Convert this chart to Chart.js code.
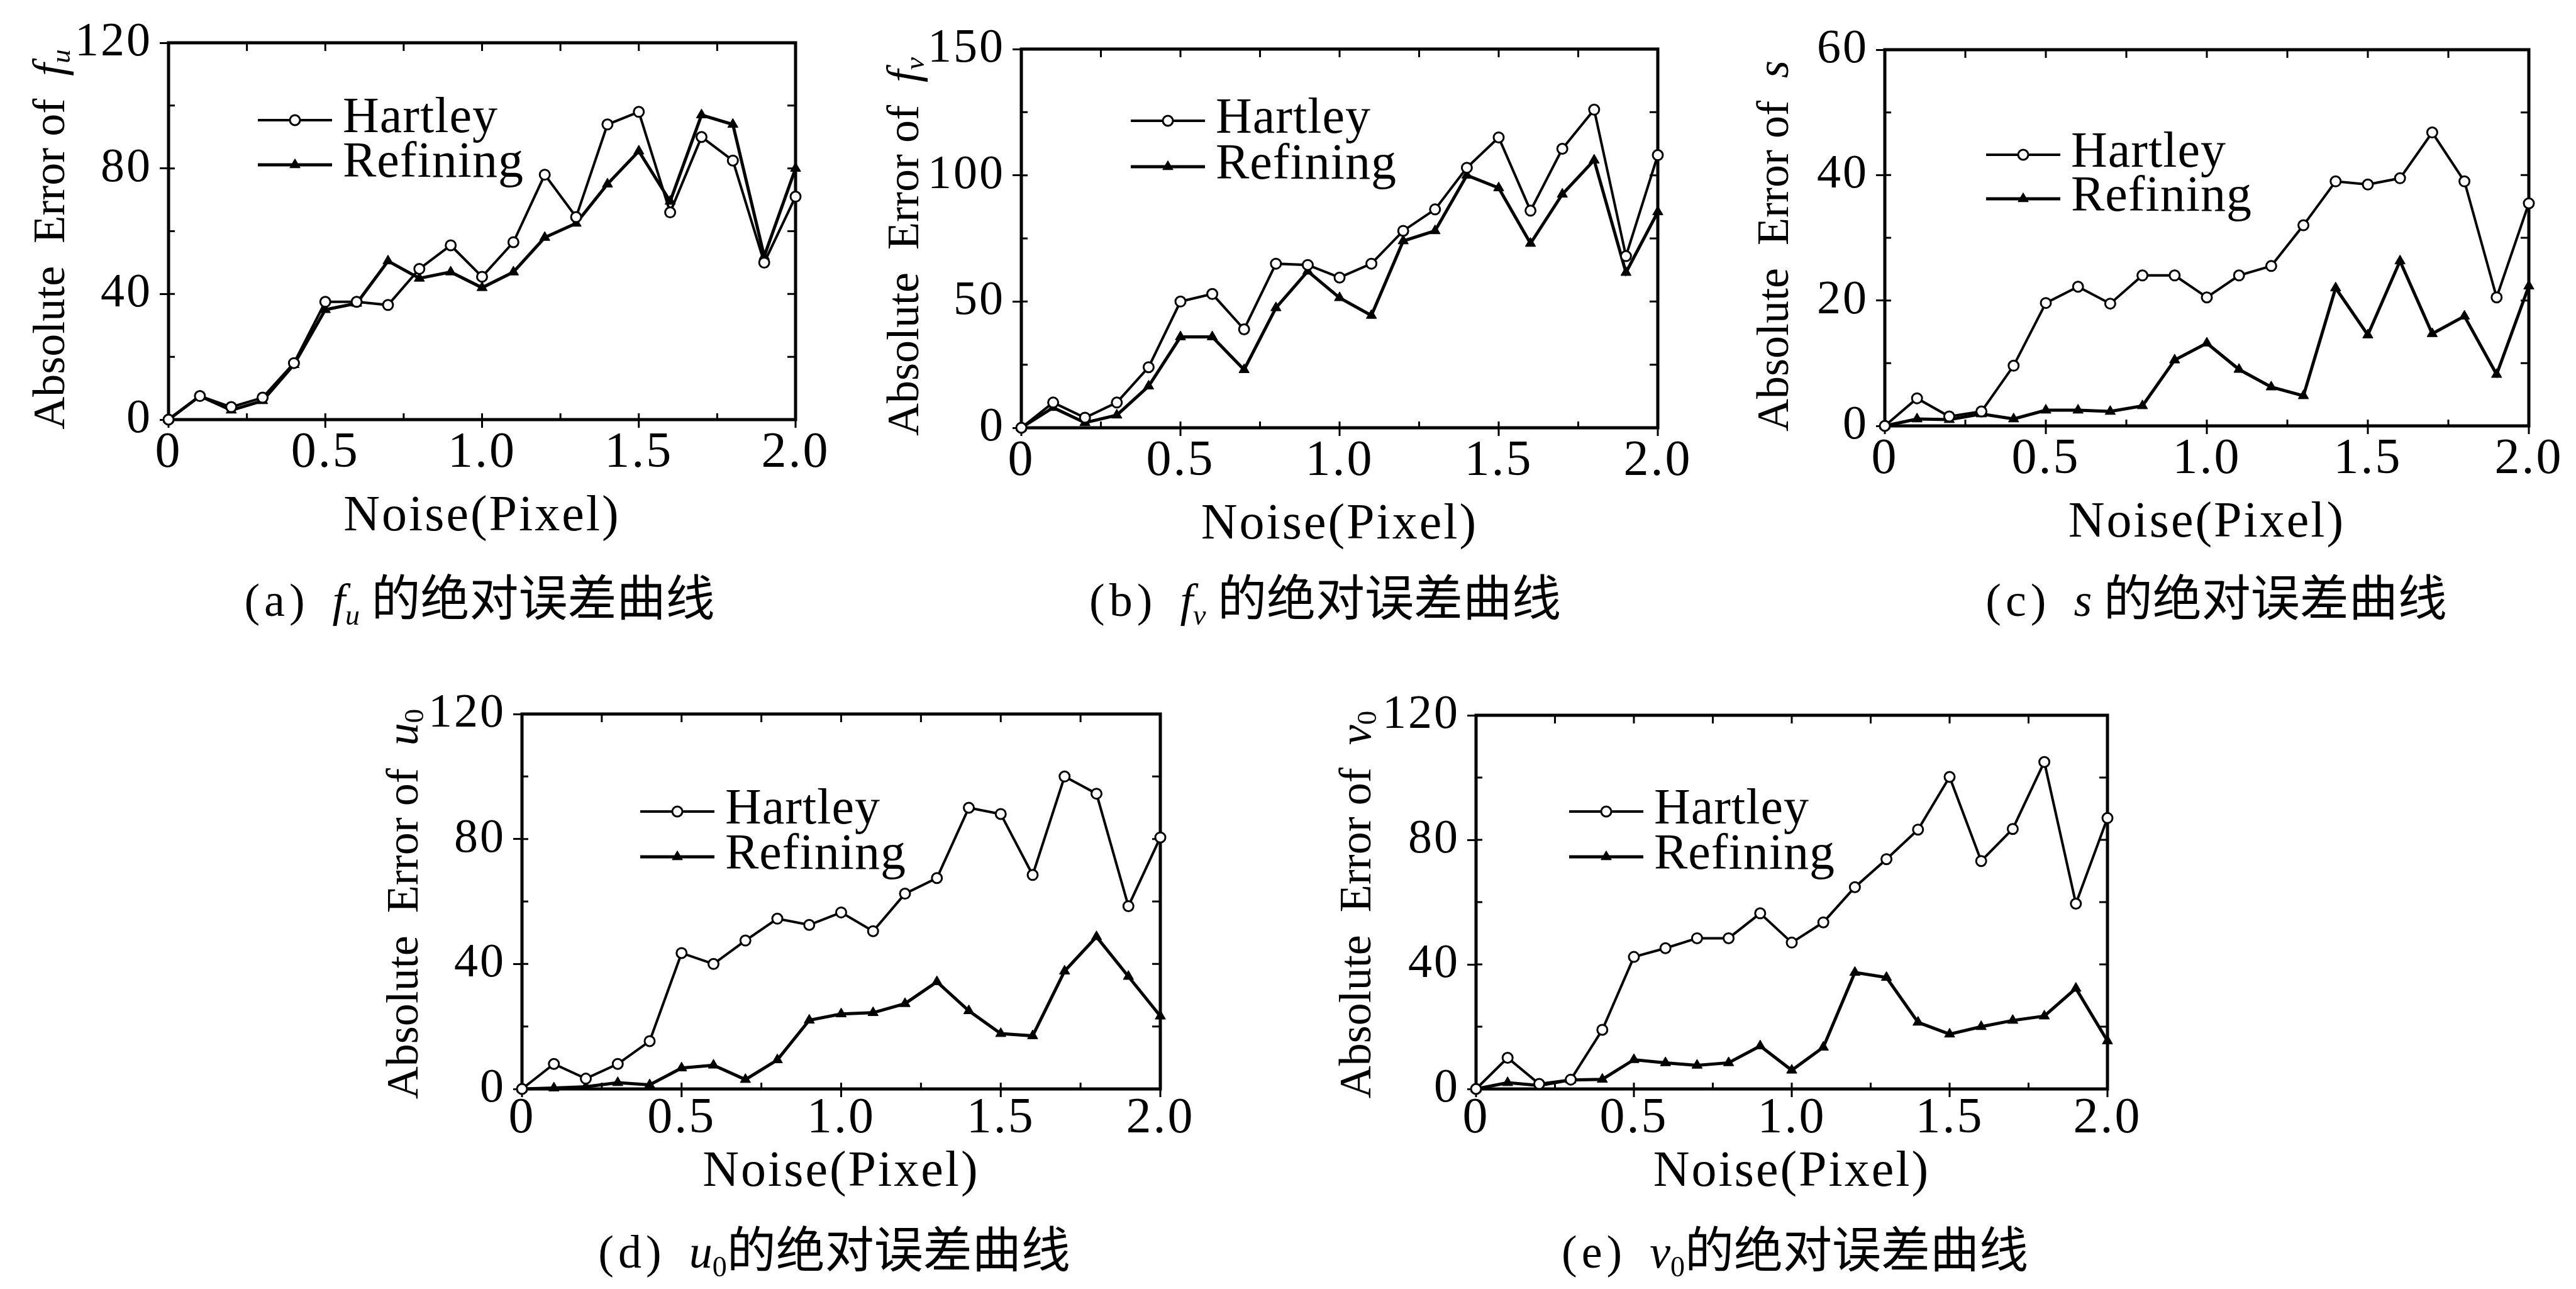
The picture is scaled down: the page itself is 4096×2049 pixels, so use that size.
<!DOCTYPE html>
<html>
<head>
<meta charset="utf-8">
<script src="https://cdn.jsdelivr.net/npm/chart.js@4.4.1/dist/chart.umd.min.js"></script>
<style>
  html, body { margin: 0; padding: 0; background: #fff; }
  body { width: 4096px; height: 2049px; position: relative; overflow: hidden; }
  canvas { position: absolute; }
</style>
</head>
<body>
<script>
// noise level (pixel) on every x axis
const noise = [0, 0.1, 0.2, 0.3, 0.4, 0.5, 0.6, 0.7, 0.8, 0.9, 1.0,
               1.1, 1.2, 1.3, 1.4, 1.5, 1.6, 1.7, 1.8, 1.9, 2.0];
const xTickLabels = ['0', '0.5', '1.0', '1.5', '2.0'];

// (a) f_u
const fuHartley  = [0, 7.5, 4, 7, 18, 37.5, 37.5, 36.5, 48, 55.5, 45.5, 56.5, 78, 64.5, 94, 98, 66, 90, 82.5, 50, 71];
const fuRefining = [0, 7.5, 3, 6, 17.5, 35, 37, 50.5, 45, 47, 42, 47, 58, 62.5, 75, 85.5, 69.5, 97, 94, 52, 80];
const fuTicks = [0, 40, 80, 120];

// (b) f_v
const fvHartley  = [0, 10, 4, 10, 24, 50, 53, 39, 65, 64.5, 59.5, 65, 78, 86.5, 103, 115, 86, 110.5, 126, 68, 108];
const fvRefining = [0, 8, 2, 5, 16.5, 36, 36, 23, 47.5, 62, 51.5, 44.5, 74, 78, 100, 95, 73, 92.5, 106, 61.5, 85.5];
const fvTicks = [0, 50, 100, 150];

// (c) s
const sHartley  = [0, 4.4, 1.5, 2.3, 9.6, 19.6, 22.2, 19.5, 24, 24, 20.5, 24, 25.5, 32, 39, 38.5, 39.5, 46.8, 39, 20.5, 35.5];
const sRefining = [0, 1.1, 1, 1.9, 1.1, 2.5, 2.5, 2.3, 3.2, 10.5, 13.2, 9, 6.2, 4.8, 22, 14.5, 26.3, 14.7, 17.5, 8.2, 22.3];
const sTicks = [0, 20, 40, 60];

// (d) u_0
const u0Hartley  = [0, 8, 3.3, 8, 15.3, 43.5, 40, 47.5, 54.5, 52.5, 56.5, 50.5, 62.5, 67.5, 90, 88, 68.5, 100, 94.5, 58.5, 80.5];
const u0Refining = [0, 0.3, 0.7, 2, 1.3, 6.7, 7.6, 3, 9.3, 22, 24, 24.4, 27.3, 34.3, 25, 17.7, 17, 37.7, 48.7, 36, 23.3];
const u0Ticks = [0, 40, 80, 120];

// (e) v_0
const v0Hartley  = [0, 10, 1.6, 3, 19, 42.4, 45.2, 48.4, 48.4, 56.4, 47, 53.5, 64.8, 73.8, 83.3, 100.2, 73.2, 83.5, 105, 59.5, 87];
const v0Refining = [0, 2, 1.1, 2.9, 3.1, 9.4, 8.4, 7.6, 8.4, 13.8, 6, 13.4, 37.4, 35.8, 21.4, 17.6, 20, 22, 23.4, 32.3, 15.4];
const v0Ticks = [0, 40, 80, 120];

const SERIF = '"Liberation Serif", "DejaVu Serif", serif';
const CJK = '"Noto Sans CJK SC", sans-serif';

// text runs, so the italic symbols and subscripts stay real text
const up  = (text, size, ls) => ({ text, font: `${size}px ${SERIF}`, ls });
const it  = (text, size) => ({ text, font: `italic ${size}px ${SERIF}` });
const sub = (text, size, italic, drop) => ({ text, font: `${italic ? 'italic ' : ''}${size}px ${SERIF}`, dy: Math.round(size * drop) });
const zh  = (text, size) => ({ text, font: `${size}px ${CJK}` });

const yTitle = sym => [up('Absolute  Error of  ', 72)].concat(sym(72, 0.2));
const caption = (tag, sym, gap) => [up(tag, 74, '7px'), up(gap, 74)].concat(sym(74, 0.3), [zh('的绝对误差曲线', 78)]);

const symFu = (s, d) => [it('f', s), sub('u', Math.round(s * 0.62), true, d), up(' ', s)];
const symFv = (s, d) => [it('f', s), sub('v', Math.round(s * 0.62), true, d), up(' ', s)];
const symS  = (s, d) => [it('s', s), up(' ', s)];
const symU0 = (s, d) => [it('u', s), sub('0', Math.round(s * 0.62), false, d)];
const symV0 = (s, d) => [it('v', s), sub('0', Math.round(s * 0.62), false, d)];

// plot boxes on the page and the label placement of each panel
const panels = [
  { hartley: fuHartley, refining: fuRefining, ticks: fuTicks, L: 268,  T: 68,   R: 1265, B: 667,
    legend: { dx: 142, dy: 115, gap: 71 }, yOff: 190, capDx: -4,  capY: 952, row: 0,
    yTitle: yTitle(symFu), caption: caption('(a)', symFu, '  ') },
  { hartley: fvHartley, refining: fvRefining, ticks: fvTicks, L: 1624, T: 78,   R: 2636, B: 680,
    legend: { dx: 174, dy: 106, gap: 73 }, yOff: 188, capDx: -23, capY: 952, row: 0,
    yTitle: yTitle(symFv), caption: caption('(b)', symFv, '  ') },
  { hartley: sHartley,  refining: sRefining,  ticks: sTicks,  L: 2997, T: 79,   R: 4021, B: 677,
    legend: { dx: 161, dy: 159, gap: 70 }, yOff: 178, capDx: 15,  capY: 952, row: 0,
    yTitle: yTitle(symS),  caption: caption('(c)', symS, '  ') },
  { hartley: u0Hartley, refining: u0Refining, ticks: u0Ticks, L: 830,  T: 1135, R: 1845, B: 1731,
    legend: { dx: 188, dy: 147, gap: 72 }, yOff: 190, capDx: -11, capY: 1988, row: 1,
    yTitle: yTitle(symU0), caption: caption('(d)', symU0, '  ') },
  { hartley: v0Hartley, refining: v0Refining, ticks: v0Ticks, L: 2347, T: 1137, R: 3351, B: 1731,
    legend: { dx: 148, dy: 145, gap: 72 }, yOff: 192, capDx: 5,   capY: 1988, row: 1,
    yTitle: yTitle(symV0), caption: caption('(e)', symV0, '  ') },
];

// per row: space under the plot, x axis box height, tick label padding
const rows = [
  { below: 340, xh: 203, tickPad: -2 },
  { below: 310, xh: 181, tickPad: -8 }
];

function drawRuns(ctx, runs, cx, baseY) {
  let total = 0;
  runs.forEach(r => {
    ctx.font = r.font;
    ctx.letterSpacing = r.ls || '0px';
    r.w = ctx.measureText(r.text).width;
    total += r.w;
  });
  let x = cx - total / 2;
  ctx.textAlign = 'left';
  ctx.textBaseline = 'alphabetic';
  ctx.fillStyle = '#000';
  runs.forEach(r => {
    ctx.font = r.font;
    ctx.letterSpacing = r.ls || '0px';
    ctx.fillText(r.text, x, baseY + (r.dy || 0));
    x += r.w;
  });
}

function drawMarker(ctx, style, x, y, r, fill, lw) {
  ctx.beginPath();
  if (style === 'triangle') {
    ctx.moveTo(x, y - r);
    ctx.lineTo(x + r * 0.866, y + r * 0.5);
    ctx.lineTo(x - r * 0.866, y + r * 0.5);
    ctx.closePath();
  } else {
    ctx.arc(x, y, r, 0, Math.PI * 2);
  }
  ctx.fillStyle = fill;
  ctx.fill();
  ctx.lineWidth = lw;
  ctx.strokeStyle = '#000';
  ctx.stroke();
}

// box round the plot, short inward ticks, outward ticks under the x labels
const panelFrame = {
  id: 'panelFrame',
  beforeDraw(chart) {
    chart.ctx.letterSpacing = '3px'; // the scan's digits are set wide ("0. 5")
  },
  beforeDatasetsDraw(chart, args, opts) {
    const { ctx, chartArea: a, scales: { x, y } } = chart;
    ctx.save();
    ctx.strokeStyle = '#000';
    ctx.lineWidth = 5;
    ctx.strokeRect(a.left, a.top, a.right - a.left, a.bottom - a.top);
    ctx.lineWidth = 3;
    ctx.beginPath();
    for (let v = 0.25; v < x.max - 1e-6; v += 0.25) {
      const px = x.getPixelForValue(v);
      ctx.moveTo(px, a.top); ctx.lineTo(px, a.top + 13);
      ctx.moveTo(px, a.bottom); ctx.lineTo(px, a.bottom - 10);
    }
    x.ticks.forEach(t => {
      const px = x.getPixelForValue(t.value);
      ctx.moveTo(px, a.bottom); ctx.lineTo(px, a.bottom + 13);
    });
    for (let v = y.min + opts.yMinor; v < y.max - 1e-6; v += opts.yMinor) {
      const py = y.getPixelForValue(v);
      ctx.moveTo(a.right, py); ctx.lineTo(a.right - 13, py);
      ctx.moveTo(a.left, py); ctx.lineTo(a.left + 10, py);
    }
    ctx.stroke();
    ctx.restore();
  }
};

const cornerLegend = {
  id: 'cornerLegend',
  afterDatasetsDraw(chart, args, opts) {
    const { ctx, chartArea: a } = chart;
    ctx.save();
    chart.data.datasets.forEach((ds, i) => {
      const x0 = a.left + opts.dx;
      const yc = a.top + opts.dy + i * opts.gap;
      const ly = yc + 8;
      ctx.strokeStyle = '#000';
      ctx.lineWidth = ds.borderWidth;
      ctx.beginPath();
      ctx.moveTo(x0, ly);
      ctx.lineTo(x0 + 118, ly);
      ctx.stroke();
      drawMarker(ctx, ds.pointStyle, x0 + 59, ly, ds.pointRadius, ds.pointBackgroundColor, ds.pointBorderWidth);
      ctx.font = `80px ${SERIF}`;
      ctx.letterSpacing = '1px';
      ctx.fillStyle = '#000';
      ctx.textAlign = 'left';
      ctx.textBaseline = 'alphabetic';
      ctx.fillText(ds.label, x0 + 135, yc + 27);
    });
    ctx.restore();
  }
};

const panelText = {
  id: 'panelText',
  afterDraw(chart, args, opts) {
    const { ctx, chartArea: a } = chart;
    ctx.save();
    ctx.translate(a.left - opts.yOff, (a.top + a.bottom) / 2 + 4);
    ctx.rotate(-Math.PI / 2);
    drawRuns(ctx, opts.yTitle, 0, 24);
    ctx.restore();
    ctx.save();
    drawRuns(ctx, opts.caption, (a.left + a.right) / 2 + opts.capDx, a.bottom + opts.capDy + 27);
    ctx.restore();
  }
};

const PAD_L = 260, PAD_T = 60, PAD_R = 70, YW = 170;

panels.forEach(p => {
  const row = rows[p.row];
  const canvas = document.createElement('canvas');
  canvas.width = (p.R - p.L) + PAD_L + PAD_R;
  canvas.height = (p.B - p.T) + PAD_T + row.below;
  canvas.style.left = (p.L - PAD_L) + 'px';
  canvas.style.top = (p.T - PAD_T) + 'px';
  document.body.appendChild(canvas);

  const step = p.ticks[1] - p.ticks[0];
  new Chart(canvas.getContext('2d'), {
    type: 'line',
    data: {
      datasets: [
        {
          label: 'Hartley',
          data: noise.map((n, i) => ({ x: n, y: p.hartley[i] })),
          borderColor: '#000', borderWidth: 4,
          pointStyle: 'circle', pointRadius: 8,
          pointBackgroundColor: '#fff', pointBorderColor: '#000', pointBorderWidth: 3,
          tension: 0, clip: false
        },
        {
          label: 'Refining',
          data: noise.map((n, i) => ({ x: n, y: p.refining[i] })),
          borderColor: '#000', borderWidth: 5,
          pointStyle: 'triangle', pointRadius: 9.5,
          pointBackgroundColor: '#000', pointBorderColor: '#000', pointBorderWidth: 1,
          tension: 0, clip: false
        }
      ]
    },
    options: {
      responsive: false,
      animation: false,
      devicePixelRatio: 1,
      layout: { padding: { left: PAD_L - YW, top: PAD_T, right: PAD_R, bottom: row.below - row.xh } },
      plugins: {
        legend: { display: false },
        tooltip: { enabled: false },
        panelFrame: { yMinor: step / 2 },
        cornerLegend: p.legend,
        panelText: { yOff: p.yOff, yTitle: p.yTitle, caption: p.caption, capDx: p.capDx, capDy: p.capY - p.B }
      },
      scales: {
        x: {
          type: 'linear', min: 0, max: 2,
          afterFit: s => { s.height = row.xh; },
          grid: { display: false },
          border: { display: false },
          ticks: {
            stepSize: 0.5, padding: row.tickPad, color: '#000', maxRotation: 0,
            font: { family: SERIF, size: 80 },
            callback: (v, i) => xTickLabels[i]
          },
          title: {
            display: true, text: 'Noise(Pixel)', color: '#000', padding: 0,
            font: { family: SERIF, size: 80 }
          }
        },
        y: {
          min: p.ticks[0], max: p.ticks[p.ticks.length - 1],
          afterFit: s => { s.width = YW; },
          grid: { display: true, drawOnChartArea: false, drawTicks: true, tickLength: 14, color: '#000', lineWidth: 3 },
          border: { display: false },
          ticks: {
            stepSize: step, padding: 12, color: '#000',
            font: { family: SERIF, size: 76 }
          }
        }
      }
    },
    plugins: [panelFrame, cornerLegend, panelText]
  });
});
</script>
</body>
</html>
